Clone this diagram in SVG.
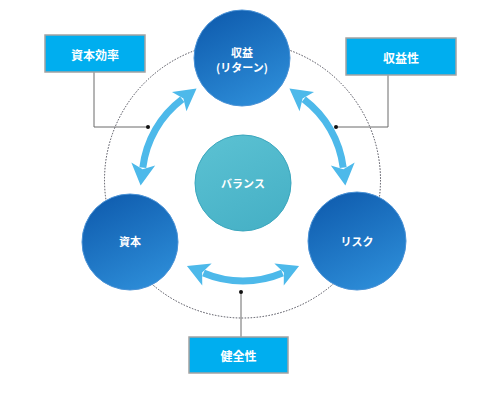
<svg xmlns="http://www.w3.org/2000/svg" width="501" height="411" viewBox="0 0 501 411">
<style>
.lbl{font-family:"Noto Sans CJK JP","Noto Sans",sans-serif;fill:#fff;font-weight:bold;text-anchor:middle;dominant-baseline:central}
.ctext{font-size:11px}
.btext{font-size:12px}
.box{fill:#00AEEF;stroke:#A3A3A3;stroke-width:1.5}
.leader{fill:none;stroke:#6a6a6a;stroke-width:1}
.dot{fill:#111}
.arrow{fill:none;stroke:#4DB9EA;stroke-width:7;marker-start:url(#ah);marker-end:url(#ah)}
.blue{fill:url(#gBlue);stroke:#4a92d6;stroke-width:1}
</style>
<defs>
<linearGradient id="gBlue" x1="0.2" y1="0" x2="0.7" y2="1">
<stop offset="0" stop-color="#0F5CAE"/>
<stop offset="1" stop-color="#2D8DD8"/>
</linearGradient>
<linearGradient id="gTeal" x1="0" y1="0" x2="0.5" y2="1">
<stop offset="0" stop-color="#5CC2D3"/>
<stop offset="1" stop-color="#48B2C7"/>
</linearGradient>
<marker id="ah" markerUnits="userSpaceOnUse" markerWidth="30" markerHeight="30" refX="0" refY="0" viewBox="-5 -10 20 20" orient="auto-start-reverse" overflow="visible">
<path d="M12,0 L-2.5,-8 L1,0 L-2.5,8 Z" fill="#4DB9EA"/>
</marker>
</defs>
<rect width="501" height="411" fill="#fff"/>
<circle cx="242.5" cy="180" r="138" fill="none" stroke="#4a4a55" stroke-width="1" stroke-dasharray="1.5 1.5"/>
<g id="connectors">
<path class="arrow" d="M142.8,167.7 A101,101 0 0,1 182.2,99.3"/>
<path class="arrow" d="M303.8,99.3 A101,101 0 0,1 343.2,167.7"/>
<path class="arrow" d="M203.5,273 A101,101 0 0,0 282.5,273"/>
<polyline class="leader" points="94,72 94,127 148,127"/>
<circle class="dot" cx="148" cy="127" r="2"/>
<polyline class="leader" points="388,75 388,127 336,127"/>
<circle class="dot" cx="336" cy="127" r="2"/>
<line class="leader" x1="241" y1="292" x2="241" y2="337"/>
<circle class="dot" cx="241" cy="292" r="2"/>
</g>
<g id="node-shueki">
<circle class="blue" cx="242" cy="58" r="48"/>
<text class="lbl ctext" x="242" y="52">収益</text>
<text class="lbl ctext" x="242" y="67">(リターン)</text>
</g>
<g id="node-shihon">
<circle class="blue" cx="130" cy="242" r="48"/>
<text class="lbl ctext" x="130" y="241">資本</text>
</g>
<g id="node-risk">
<circle class="blue" cx="357" cy="241" r="49"/>
<text class="lbl ctext" x="357" y="241">リスク</text>
</g>
<g id="node-balance">
<circle cx="243" cy="183" r="48" fill="url(#gTeal)" stroke="#3aa6bd" stroke-width="1"/>
<text class="lbl ctext" x="243" y="183">バランス</text>
</g>
<g id="box-shihonkoritsu">
<rect class="box" x="45" y="35" width="100" height="37"/>
<text class="lbl btext" x="95" y="54">資本効率</text>
</g>
<g id="box-shuekisei">
<rect class="box" x="346" y="38" width="110" height="37"/>
<text class="lbl btext" x="401" y="57">収益性</text>
</g>
<g id="box-kenzensei">
<rect class="box" x="189" y="337" width="99" height="36"/>
<text class="lbl btext" x="238.5" y="355.5">健全性</text>
</g>
</svg>
